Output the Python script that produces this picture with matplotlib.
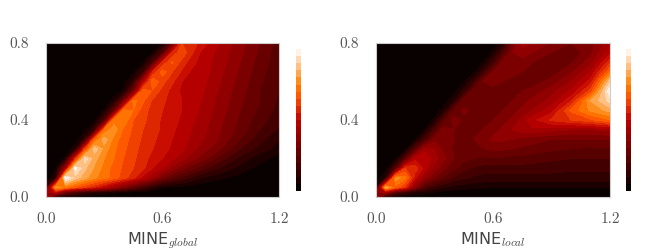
import matplotlib
matplotlib.use('Agg')
import matplotlib.pyplot as plt
import numpy as np

plt.rcParams['mathtext.fontset'] = 'cm'
plt.rcParams['axes.formatter.use_mathtext'] = True

W, H = 667, 250

mine_x = [0, .05, .1, .15, .2, .25, .3, .35, .4, .45, .5, .55, .6, .65, .7, .75, .8, .9, 1.0, 1.1, 1.2]
mine_y = [0, .025, .05, .1, .15, .2, .25, .3, .35, .4, .45, .5, .55, .6, .65, .7, .75, .8]
x_ticks = [0.0, 0.6, 1.2]
y_ticks = [0.0, 0.4, 0.8]

z_global = [
    [.5, .12, .04, .03, .02, .01, .01, .01, 0, 0, 0, 0, 0, 0, 0, 0, 0, 0, 0, 0, 0],
    [.4, .5, .3, .2, .14, .1, .08, .06, .05, .04, .03, .02, .02, .01, .01, .01, 0, 0, 0, 0, 0],
    [.15, .8, .72, .66, .6, .55, .48, .4, .32, .24, .17, .1, .05, .04, .03, .02, .01, 0, 0, 0, 0],
    [0, .1, 1, .88, .82, .76, .72, .68, .62, .56, .48, .4, .3, .24, .19, .14, .1, .06, .03, .01, 0],
    [0, .03, .4, .97, .86, .79, .73, .68, .64, .6, .56, .5, .45, .38, .32, .27, .22, .14, .08, .03, .01],
    [0, 0, .06, .55, .93, .82, .75, .7, .65, .61, .57, .53, .5, .46, .42, .37, .33, .22, .13, .07, .03],
    [0, 0, .01, .08, .6, .88, .78, .71, .66, .62, .58, .55, .52, .49, .46, .42, .38, .3, .2, .13, .08],
    [0, 0, 0, .02, .12, .68, .83, .73, .67, .63, .59, .56, .53, .5, .47, .44, .41, .34, .25, .17, .1],
    [0, 0, 0, 0, .03, .15, .7, .78, .69, .64, .6, .57, .54, .51, .48, .45, .42, .35, .28, .2, .14],
    [0, 0, 0, 0, .01, .03, .2, .72, .74, .65, .61, .58, .54, .52, .49, .46, .43, .36, .29, .22, .17],
    [0, 0, 0, 0, 0, .01, .05, .25, .72, .7, .62, .58, .55, .52, .5, .47, .44, .37, .3, .24, .18],
    [0, 0, 0, 0, 0, 0, .01, .07, .3, .72, .66, .59, .56, .53, .5, .48, .45, .38, .31, .25, .19],
    [0, 0, 0, 0, 0, 0, 0, .02, .06, .3, .7, .64, .58, .53, .49, .46, .46, .39, .32, .25, .2],
    [0, 0, 0, 0, 0, 0, 0, 0, .03, .12, .45, .7, .62, .56, .5, .47, .47, .4, .33, .26, .2],
    [0, 0, 0, 0, 0, 0, 0, 0, 0, .03, .15, .55, .68, .6, .54, .49, .48, .41, .34, .27, .21],
    [0, 0, 0, 0, 0, 0, 0, 0, 0, 0, .04, .2, .55, .66, .58, .52, .48, .42, .35, .28, .22],
    [0, 0, 0, 0, 0, 0, 0, 0, 0, 0, 0, .05, .2, .55, .64, .56, .49, .43, .36, .29, .22],
    [0, 0, 0, 0, 0, 0, 0, 0, 0, 0, 0, 0, .05, .25, .6, .58, .53, .44, .37, .3, .23],
]

z_local = [
    [.45, .08, .03, .02, .01, .01, .01, 0, 0, 0, 0, 0, 0, 0, 0, 0, 0, 0, 0, 0, 0],
    [.35, .45, .25, .15, .1, .07, .05, .03, .02, .02, .01, .01, .01, .01, .01, .01, .01, .01, .01, .01, .01],
    [.1, .82, .68, .58, .35, .2, .14, .1, .08, .07, .06, .06, .05, .05, .05, .05, .05, .05, .05, .05, .05],
    [0, .1, .78, .72, .52, .38, .3, .24, .19, .16, .14, .13, .13, .13, .13, .13, .13, .13, .13, .13, .13],
    [0, .02, .2, .6, .58, .48, .38, .31, .26, .22, .19, .18, .18, .18, .18, .18, .18, .17, .16, .16, .16],
    [0, 0, .03, .22, .48, .5, .42, .36, .3, .27, .25, .24, .24, .24, .23, .23, .22, .21, .2, .2, .2],
    [0, 0, 0, .03, .22, .42, .4, .33, .29, .3, .3, .3, .31, .31, .3, .29, .28, .26, .25, .24, .24],
    [0, 0, 0, 0, .04, .18, .33, .33, .3, .27, .3, .33, .36, .36, .35, .33, .32, .3, .3, .3, .3],
    [0, 0, 0, 0, .01, .05, .2, .33, .3, .28, .27, .3, .33, .36, .4, .43, .44, .42, .4, .4, .42],
    [0, 0, 0, 0, 0, .01, .06, .24, .32, .29, .28, .27, .3, .33, .36, .42, .48, .56, .6, .64, .7],
    [0, 0, 0, 0, 0, 0, .01, .08, .27, .31, .29, .28, .27, .3, .33, .36, .4, .48, .66, .76, .82],
    [0, 0, 0, 0, 0, 0, 0, .02, .1, .28, .3, .29, .28, .27, .3, .33, .36, .42, .54, .8, .92],
    [0, 0, 0, 0, 0, 0, 0, 0, .03, .12, .29, .3, .29, .28, .27, .3, .32, .38, .46, .62, 1.0],
    [0, 0, 0, 0, 0, 0, 0, 0, .01, .04, .14, .3, .31, .3, .29, .28, .27, .32, .4, .52, .88],
    [0, 0, 0, 0, 0, 0, 0, 0, 0, .01, .04, .14, .3, .32, .31, .3, .28, .27, .34, .45, .7],
    [0, 0, 0, 0, 0, 0, 0, 0, 0, 0, .01, .05, .16, .32, .33, .32, .3, .28, .29, .38, .58],
    [0, 0, 0, 0, 0, 0, 0, 0, 0, 0, 0, .01, .06, .2, .35, .38, .35, .3, .27, .33, .48],
    [0, 0, 0, 0, 0, 0, 0, 0, 0, 0, 0, 0, .02, .08, .3, .42, .4, .34, .3, .33, .44],
]

levels = np.linspace(0, 1, 21)


def add_panel(fig, left, right, cbar_left, z, label):
    ax = fig.add_axes([left / W, 1 - 197 / H, (right - left) / W, 154 / H])
    cs = ax.contourf(mine_x, mine_y, np.array(z), levels=levels, cmap='gist_heat')
    ax.set_xlim(0, 1.2)
    ax.set_ylim(0, 0.8)
    ax.set_xticks(x_ticks, [f'{t:.1f}' for t in x_ticks])
    ax.set_yticks(y_ticks, [f'{t:.1f}' for t in y_ticks])
    ax.tick_params(axis='x', length=0, labelsize=11, labelcolor='#555555', pad=11)
    ax.tick_params(axis='y', length=0, labelsize=11, labelcolor='#555555', pad=12)
    for lab in ax.get_xticklabels() + ax.get_yticklabels():
        lab.set_family('cmr10')
    for s in ax.spines.values():
        s.set_color('#cccccc')
        s.set_linewidth(0.8)
    ax.set_xlabel(label, fontsize=11.5, color='#444444', labelpad=3)

    cax = fig.add_axes([cbar_left / W, 1 - 191 / H, 5 / W, 142 / H])
    cb = fig.colorbar(cs, cax=cax)
    cb.set_ticks([])
    cb.outline.set_visible(False)


fig = plt.figure(figsize=(W / 100, H / 100), dpi=100)
add_panel(fig, 46, 279, 296, z_global, r'MINE$_{global}$')
add_panel(fig, 376, 610, 626, z_local, r'MINE$_{local}$')
fig.savefig('out.png', dpi=100)
